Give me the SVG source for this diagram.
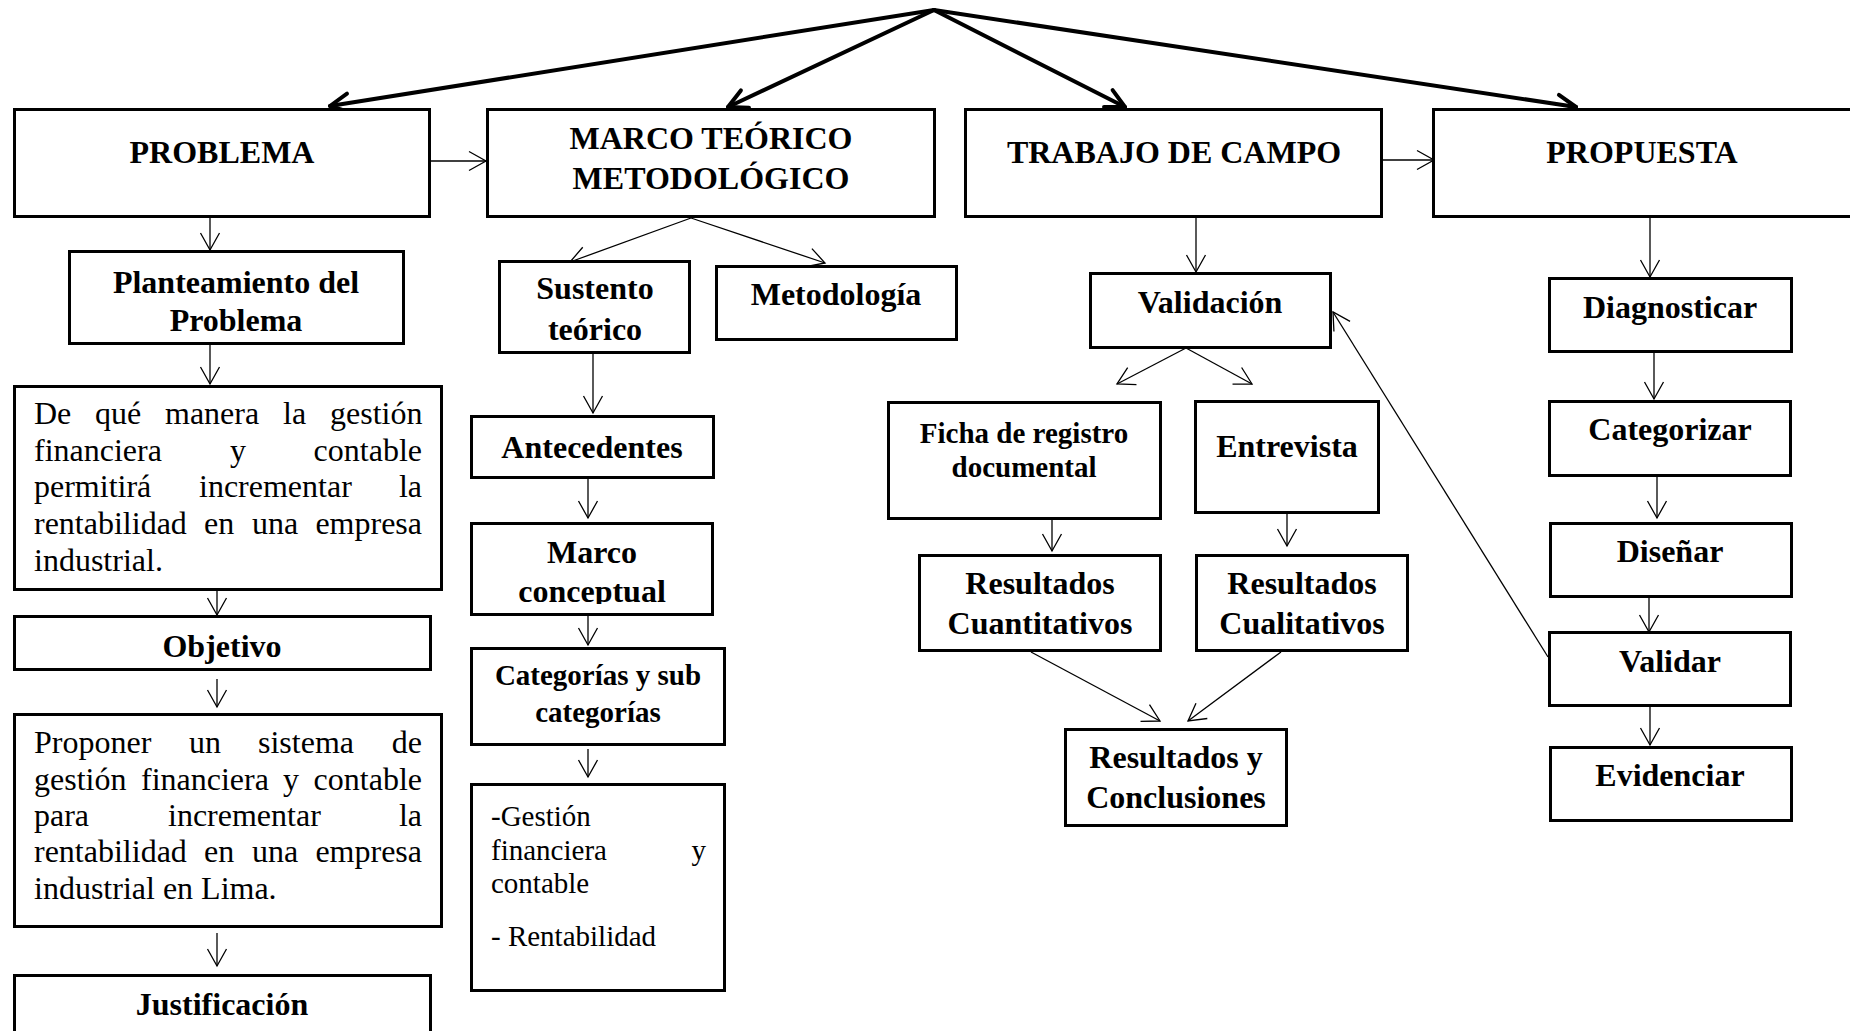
<svg xmlns="http://www.w3.org/2000/svg" width="1850" height="1031" viewBox="0 0 1850 1031">
<style>
.box{fill:#fff;stroke:#000;stroke-width:3}
.t{font-family:"Liberation Serif","Times New Roman",serif;font-weight:bold;font-size:32px;fill:#000;text-anchor:middle}
.s{font-size:29px}
.b{font-family:"Liberation Serif","Times New Roman",serif;font-size:32px;fill:#000}
.l{font-family:"Liberation Serif","Times New Roman",serif;font-size:29px;fill:#000}
.e{text-anchor:end}
.c{fill:none;stroke:#000;stroke-width:1.3;marker-end:url(#a)}
.k{fill:none;stroke:#000;stroke-width:4;stroke-linecap:round;marker-end:url(#ak)}
</style>
<defs>
<marker id="a" markerUnits="userSpaceOnUse" viewBox="-20 -12 22 24" markerWidth="22" markerHeight="24" refX="0" refY="0" orient="auto">
<path d="M-17,-9.5 L0,0 L-17,9.5" fill="none" stroke="#000" stroke-width="1.3"/>
</marker>
<marker id="ak" markerUnits="userSpaceOnUse" viewBox="-24 -14 28 28" markerWidth="28" markerHeight="28" refX="0" refY="0" orient="auto">
<path d="M-18.7,-9.5 L0,0 L-18.7,9.5" fill="none" stroke="#000" stroke-width="4" stroke-linecap="round" stroke-linejoin="round"/>
</marker>
<clipPath id="mc"><rect x="471" y="523" width="243" height="81"/></clipPath>
</defs>
<rect width="1850" height="1031" fill="#fff"/>

<g id="connectors">
<line class="k" x1="934" y1="10" x2="330" y2="106"/>
<line class="k" x1="934" y1="10" x2="728" y2="107"/>
<line class="k" x1="934" y1="10" x2="1125" y2="107"/>
<line class="k" x1="934" y1="10" x2="1576" y2="107"/>
<line class="c" x1="431" y1="161" x2="486" y2="161"/>
<line class="c" x1="1383" y1="160" x2="1434" y2="160"/>
<line class="c" x1="210" y1="218" x2="210" y2="250"/>
<line class="c" x1="210" y1="345" x2="210" y2="384"/>
<line class="c" x1="217" y1="591" x2="217" y2="615"/>
<line class="c" x1="217" y1="679" x2="217" y2="707"/>
<line class="c" x1="217" y1="933" x2="217" y2="966"/>
<line class="c" x1="691" y1="218" x2="570" y2="262"/>
<line class="c" x1="691" y1="218" x2="825" y2="263"/>
<line class="c" x1="593" y1="354" x2="593" y2="413"/>
<line class="c" x1="588" y1="479" x2="588" y2="518"/>
<line class="c" x1="588" y1="616" x2="588" y2="645"/>
<line class="c" x1="588" y1="749" x2="588" y2="777"/>
<line class="c" x1="1196" y1="218" x2="1196" y2="272"/>
<line class="c" x1="1186" y1="348" x2="1117" y2="384"/>
<line class="c" x1="1186" y1="348" x2="1252" y2="384"/>
<line class="c" x1="1052" y1="520" x2="1052" y2="551"/>
<line class="c" x1="1287" y1="514" x2="1287" y2="546"/>
<line class="c" x1="1031" y1="652" x2="1160" y2="721"/>
<line class="c" x1="1281" y1="652" x2="1188" y2="721"/>
<line class="c" x1="1548" y1="657" x2="1333" y2="312"/>
<line class="c" x1="1650" y1="218" x2="1650" y2="277"/>
<line class="c" x1="1654" y1="353" x2="1654" y2="399"/>
<line class="c" x1="1657" y1="477" x2="1657" y2="518"/>
<line class="c" x1="1649" y1="598" x2="1649" y2="632"/>
<line class="c" x1="1650" y1="707" x2="1650" y2="745"/>
</g>

<g id="problema"><rect class="box" x="14.5" y="109.5" width="415" height="107"/><text class="t" x="222" y="163">PROBLEMA</text></g>
<g id="marco-teorico"><rect class="box" x="487.5" y="109.5" width="447" height="107"/><text class="t" x="711" y="149">MARCO TEÓRICO</text><text class="t" x="711" y="189">METODOLÓGICO</text></g>
<g id="trabajo-campo"><rect class="box" x="965.5" y="109.5" width="416" height="107"/><text class="t" x="1174" y="163">TRABAJO DE CAMPO</text></g>
<g id="propuesta"><rect class="box" x="1433.5" y="109.5" width="430" height="107"/><text class="t" x="1642" y="163">PROPUESTA</text></g>

<g id="planteamiento"><rect class="box" x="69.5" y="251.5" width="334" height="92"/><text class="t" x="236" y="293">Planteamiento del</text><text class="t" x="236" y="331">Problema</text></g>
<g id="pregunta"><rect class="box" x="14.5" y="386.5" width="427" height="203"/>
<text class="b" y="424"><tspan x="34">De</tspan><tspan x="95">qué</tspan><tspan x="165">manera</tspan><tspan x="283">la</tspan><tspan x="330">gestión</tspan></text>
<text class="b" y="461"><tspan x="34">financiera</tspan><tspan x="230">y</tspan></text><text class="b e" x="422" y="461">contable</text>
<text class="b" y="497"><tspan x="34">permitirá</tspan><tspan x="199">incrementar</tspan></text><text class="b e" x="422" y="497">la</text>
<text class="b" y="534"><tspan x="34">rentabilidad</tspan><tspan x="204">en</tspan><tspan x="252">una</tspan></text><text class="b e" x="422" y="534">empresa</text>
<text class="b" x="34" y="571">industrial.</text>
</g>
<g id="objetivo"><rect class="box" x="14.5" y="616.5" width="416" height="53"/><text class="t" x="222" y="657">Objetivo</text></g>
<g id="objetivo-texto"><rect class="box" x="14.5" y="714.5" width="427" height="212"/>
<text class="b" y="753"><tspan x="34">Proponer</tspan><tspan x="189">un</tspan><tspan x="258">sistema</tspan></text><text class="b e" x="422" y="753">de</text>
<text class="b" y="790"><tspan x="34">gestión</tspan><tspan x="141">financiera</tspan><tspan x="283">y</tspan></text><text class="b e" x="422" y="790">contable</text>
<text class="b" y="826"><tspan x="34">para</tspan><tspan x="168">incrementar</tspan></text><text class="b e" x="422" y="826">la</text>
<text class="b" y="862"><tspan x="34">rentabilidad</tspan><tspan x="204">en</tspan><tspan x="252">una</tspan></text><text class="b e" x="422" y="862">empresa</text>
<text class="b" x="34" y="899">industrial en Lima.</text>
</g>
<g id="justificacion"><rect class="box" x="14.5" y="975.5" width="416" height="70"/><text class="t" x="222" y="1015">Justificación</text></g>

<g id="sustento"><rect class="box" x="499.5" y="261.5" width="190" height="91"/><text class="t" x="595" y="299">Sustento</text><text class="t" x="595" y="340">teórico</text></g>
<g id="metodologia"><rect class="box" x="716.5" y="266.5" width="240" height="73"/><text class="t" x="836" y="305">Metodología</text></g>
<g id="antecedentes"><rect class="box" x="471.5" y="416.5" width="242" height="61"/><text class="t" x="592" y="458">Antecedentes</text></g>
<g id="marco-conceptual"><rect class="box" x="471.5" y="523.5" width="241" height="91"/><g clip-path="url(#mc)"><text class="t" x="592" y="563">Marco</text><text class="t" x="592" y="602">conceptual</text></g></g>
<g id="categorias"><rect class="box" x="471.5" y="648.5" width="253" height="96"/><text class="t s" x="598" y="685">Categorías y sub</text><text class="t s" x="598" y="722">categorías</text></g>
<g id="lista"><rect class="box" x="471.5" y="784.5" width="253" height="206"/>
<text class="l" x="491" y="826">-Gestión</text>
<text class="l" x="491" y="860">financiera</text><text class="l e" x="706" y="860">y</text>
<text class="l" x="491" y="893">contable</text>
<text class="l" x="491" y="946">- Rentabilidad</text>
</g>

<g id="validacion"><rect class="box" x="1090.5" y="273.5" width="240" height="74"/><text class="t" x="1210" y="313">Validación</text></g>
<g id="ficha"><rect class="box" x="888.5" y="402.5" width="272" height="116"/><text class="t s" x="1024" y="443">Ficha de registro</text><text class="t s" x="1024" y="477">documental</text></g>
<g id="entrevista"><rect class="box" x="1195.5" y="401.5" width="183" height="111"/><text class="t" x="1287" y="457">Entrevista</text></g>
<g id="res-cuantitativos"><rect class="box" x="919.5" y="555.5" width="241" height="95"/><text class="t" x="1040" y="594">Resultados</text><text class="t" x="1040" y="634">Cuantitativos</text></g>
<g id="res-cualitativos"><rect class="box" x="1196.5" y="555.5" width="211" height="95"/><text class="t" x="1302" y="594">Resultados</text><text class="t" x="1302" y="634">Cualitativos</text></g>
<g id="res-conclusiones"><rect class="box" x="1065.5" y="729.5" width="221" height="96"/><text class="t" x="1176" y="768">Resultados y</text><text class="t" x="1176" y="808">Conclusiones</text></g>

<g id="diagnosticar"><rect class="box" x="1549.5" y="278.5" width="242" height="73"/><text class="t" x="1670" y="318">Diagnosticar</text></g>
<g id="categorizar"><rect class="box" x="1549.5" y="401.5" width="241" height="74"/><text class="t" x="1670" y="440">Categorizar</text></g>
<g id="disenar"><rect class="box" x="1550.5" y="523.5" width="241" height="73"/><text class="t" x="1670" y="562">Diseñar</text></g>
<g id="validar"><rect class="box" x="1549.5" y="632.5" width="241" height="73"/><text class="t" x="1670" y="672">Validar</text></g>
<g id="evidenciar"><rect class="box" x="1550.5" y="747.5" width="241" height="73"/><text class="t" x="1670" y="786">Evidenciar</text></g>
</svg>
